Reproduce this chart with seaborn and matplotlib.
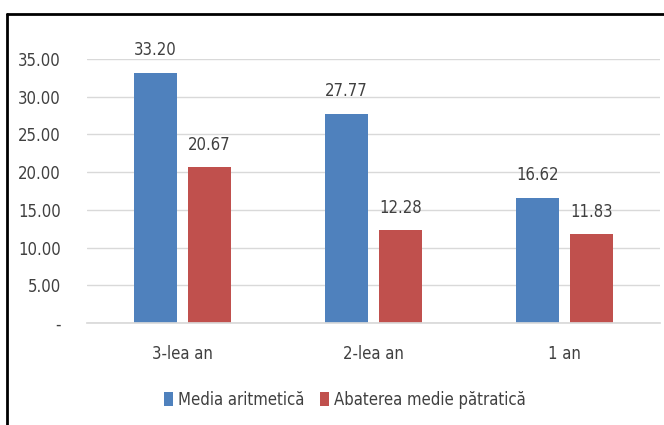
import matplotlib
matplotlib.use("Agg")
import matplotlib.pyplot as plt
from matplotlib.lines import Line2D
import seaborn as sns
import pandas as pd

categories = ["3-lea an", "2-lea an", "1 an"]
series_names = ["Media aritmetică", "Abaterea medie pătratică"]
media = [33.20, 27.77, 16.62]
abatere = [20.67, 12.28, 11.83]
yticks = [0, 5, 10, 15, 20, 25, 30, 35]

df = pd.DataFrame({
    "an": categories * 2,
    "serie": [series_names[0]] * 3 + [series_names[1]] * 3,
    "valoare": media + abatere,
})

sns.set_theme(style="white")
plt.rcParams["font.family"] = ["DejaVu Sans"]
plt.rcParams["font.stretch"] = "condensed"

fig = plt.figure(figsize=(6.64, 4.25), dpi=100)
ax = fig.add_axes([0.131, 0.24, 0.863, 0.621])

palette = {series_names[0]: "#4F81BD", series_names[1]: "#C0504D"}
sns.barplot(data=df, x="an", y="valoare", hue="serie", palette=palette,
            width=0.565, gap=0.2, saturation=1, linewidth=0, ax=ax, legend=True)

ax.set_ylim(0, 35)
ax.set_xlim(-0.5, 2.5)
ax.set_yticks(yticks)
ax.set_yticklabels(["-" if v == 0 else f"{v:.2f}" for v in yticks])
ax.grid(axis="y", color="#D9D9D9", linewidth=1)
ax.set_axisbelow(True)
for s in ["left", "right", "top"]:
    ax.spines[s].set_visible(False)
ax.spines["bottom"].set_color("#D9D9D9")
ax.tick_params(axis="both", length=0, labelsize=12, colors="#404040")
ax.tick_params(axis="y", pad=19)
ax.tick_params(axis="x", pad=16)
ax.set_xlabel("")
ax.set_ylabel("")

for c in ax.containers:
    ax.bar_label(c, fmt="%.2f", padding=9.5, fontsize=12, color="#404040")

ax.legend(loc="upper center", bbox_to_anchor=(0.45, -0.2), ncol=2, frameon=False,
          fontsize=12, handlelength=0.55, handleheight=0.85, handletextpad=0.3,
          columnspacing=0.9, labelcolor="#404040")

# chenarul exterior
fig.add_artist(Line2D([7 / 664, 7 / 664], [0, 1 - 14 / 425], color="black", linewidth=2,
                      transform=fig.transFigure))
fig.add_artist(Line2D([7 / 664, 1], [1 - 14 / 425, 1 - 14 / 425], color="black", linewidth=2,
                      transform=fig.transFigure))

fig.savefig("out.png", dpi=100)
